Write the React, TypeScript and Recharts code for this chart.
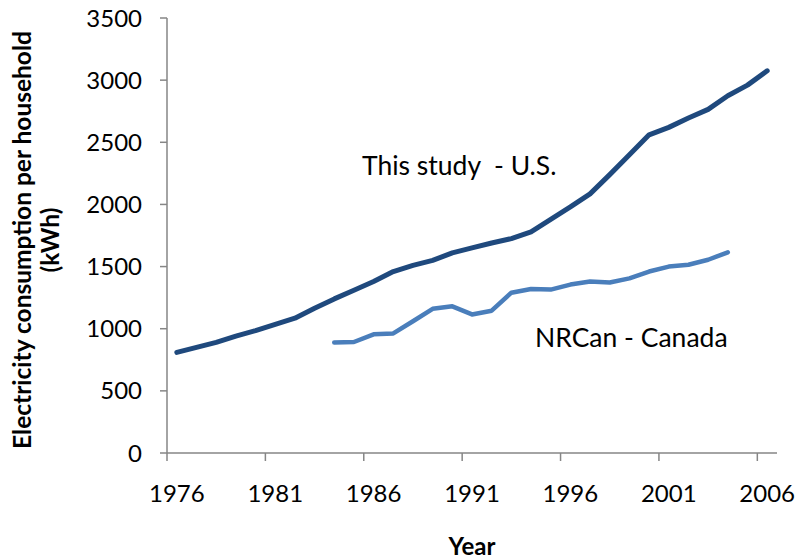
import { LineChart, Line, XAxis, YAxis } from 'recharts'

const YEARS = [
  1976, 1977, 1978, 1979, 1980, 1981, 1982, 1983, 1984, 1985, 1986,
  1987, 1988, 1989, 1990, 1991, 1992, 1993, 1994, 1995, 1996, 1997,
  1998, 1999, 2000, 2001, 2002, 2003, 2004, 2005, 2006,
]

// This study - U.S. (kWh per household)
const US_KWH = [
  810, 850, 890, 940, 985, 1035, 1085, 1165, 1240, 1310, 1380,
  1460, 1510, 1550, 1610, 1650, 1690, 1725, 1780, 1880, 1980, 2085,
  2240, 2400, 2560, 2620, 2695, 2765, 2875, 2960, 3075,
]

// NRCan - Canada, only 1984–2004
const CANADA_KWH = [
  null, null, null, null, null, null, null, null, 890, 893, 955,
  962, 1060, 1160, 1180, 1115, 1145, 1290, 1320, 1315, 1355, 1380,
  1372, 1405, 1460, 1500, 1515, 1555, 1615, null, null,
]

const X_LABELS = [1976, 1981, 1986, 1991, 1996, 2001, 2006]
const Y_TICKS = [0, 500, 1000, 1500, 2000, 2500, 3000, 3500]

const data = YEARS.map((year, i) => ({ year, us: US_KWH[i], canada: CANADA_KWH[i] }))

const FONT = 'Lato, "Open Sans", sans-serif'
const AXIS_GREY = '#868686'
const PLOT_W = 610
const HALF_SLOT = PLOT_W / YEARS.length / 2

// tick marks sit between categories (Excel style), labels in the middle of the slot
const YearTick = ({ x, y, payload }: any) => (
  <text x={x + HALF_SLOT} y={y} dy="0.71em" textAnchor="middle" fill="#000" fontSize={24} fontFamily={FONT}>
    {payload.value + 0.5}
  </text>
)

export default function App() {
  return (
    <div style={{ position: 'absolute', left: 0, top: 0, width: 797, height: 559, background: '#fff', fontFamily: FONT }}>
      <LineChart width={797} height={559} data={data} margin={{ top: 18, right: 20, bottom: 0, left: 0 }}>
        <XAxis
          dataKey="year"
          type="number"
          domain={[1975.5, 2006.5]}
          ticks={X_LABELS.map(y => y - 0.5)}
          tick={<YearTick />}
          tickSize={8}
          tickMargin={24}
          height={106}
          interval={0}
          stroke={AXIS_GREY}
          strokeWidth={1.5}
        />
        <YAxis
          domain={[0, 3500]}
          ticks={Y_TICKS}
          width={167}
          tickSize={7}
          tickMargin={18}
          interval={0}
          stroke={AXIS_GREY}
          strokeWidth={1.5}
          tick={{ fill: '#000', fontSize: 24, fontFamily: FONT }}
        />
        <Line
          dataKey="us"
          stroke="#1f497d"
          strokeWidth={5}
          dot={false}
          strokeLinecap="round"
          strokeLinejoin="round"
          isAnimationActive={false}
        />
        <Line
          dataKey="canada"
          stroke="#4a7ebb"
          strokeWidth={4.5}
          dot={false}
          strokeLinecap="round"
          strokeLinejoin="round"
          isAnimationActive={false}
        />
      </LineChart>

      <div style={{ position: 'absolute', left: 36, top: 240, transform: 'translate(-50%, -50%) rotate(-90deg)', textAlign: 'center', whiteSpace: 'nowrap', fontWeight: 700, fontSize: 24.5, lineHeight: '28px', color: '#000' }}>
        Electricity consumption per household<br />(kWh)
      </div>
      <div style={{ position: 'absolute', left: 472, top: 545, transform: 'translate(-50%, -50%)', fontWeight: 700, fontSize: 24, color: '#000' }}>
        Year
      </div>
      <div style={{ position: 'absolute', left: 362, top: 165, transform: 'translateY(-50%)', fontSize: 26.5, color: '#000', whiteSpace: 'pre' }}>
        This study  - U.S.
      </div>
      <div style={{ position: 'absolute', left: 535, top: 337, transform: 'translateY(-50%)', fontSize: 26.5, color: '#000', whiteSpace: 'pre' }}>
        NRCan - Canada
      </div>
    </div>
  )
}
